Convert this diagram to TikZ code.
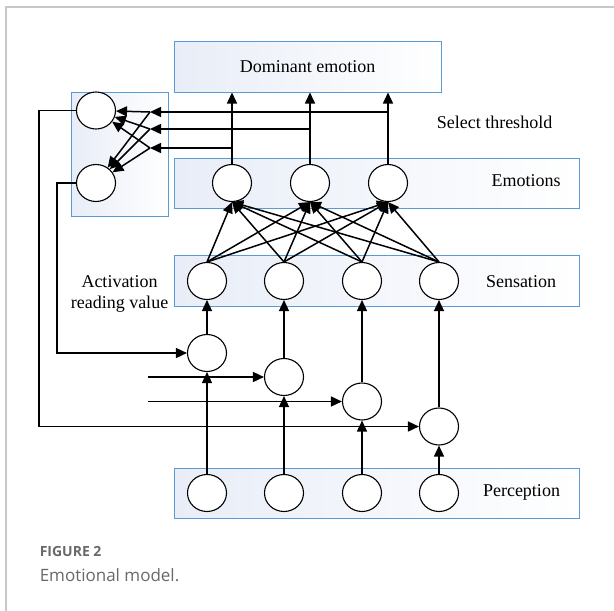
\documentclass[tikz,border=0pt]{standalone}
\usepackage{fontspec}
\setmainfont{Liberation Serif}
\newfontfamily\capfont{Open Sans}
\usetikzlibrary{arrows.meta}
\usetikzlibrary{positioning}
\usetikzlibrary{calc, shapes.geometric}
\definecolor{boxblue}{RGB}{91,155,213}
\definecolor{boxfill}{RGB}{232,237,247}
\definecolor{framegray}{RGB}{200,200,200}
\definecolor{capgray}{RGB}{105,105,105}

\begin{document}
\begin{tikzpicture}[x=1pt,y=-1pt,>={Triangle[length=11pt,width=10pt]},line width=1.5pt,font=\fontsize{18}{21}\selectfont]
 \tikzstyle{layer node}=[rectangle,draw=boxblue,line width=1pt,left color=boxfill,right color=white,inner sep=0]
 \tikzstyle{unit node}=[ellipse,draw,fill=white,line width=1.1pt,minimum width=39pt,minimum height=37pt,inner sep=0]
 \tikzstyle{text node}=[inner sep=0]
 \tikzset{
 	caption head/.style={inner sep=0,anchor=west,text=capgray,font=\capfont\bfseries\fontsize{14}{16}\selectfont},
 	caption body/.style={inner sep=0,anchor=west,text=capgray,font=\capfont\fontsize{17}{20}\selectfont}
 }
 \useasboundingbox (0,0) rectangle (614,611);
 \draw[framegray,line width=1.5pt] (6,611) -- (6,7) -- (614,7);

       % layers
       \node[layer node,minimum width=267pt,minimum height=51pt] (dom) at (307.5,66.5) {Dominant emotion};
       \node[layer node,minimum width=97pt,minimum height=124pt] (sel) at (119.5,154) {};
       \node[layer node,minimum width=405pt,minimum height=50pt] (emo) at (376.5,183) {};
       \node[layer node,minimum width=405pt,minimum height=51pt] (sen) at (376.5,280.5) {};
       \node[layer node,minimum width=405pt,minimum height=50pt] (per) at (376.5,493) {};

       \node[text node] (selt) at (494.5,122) {Select threshold};
       \node[text node] (emot) at (526,181) {Emotions};
       \node[text node] (sent) at (521,282) {Sensation};
       \node[text node] (pert) at (521.5,492) {Perception};
       \node[text node,align=center] (actt) at (119.5,293.5) {Activation\\reading value};

       % units
       \node[unit node] (lb1) at (96,110.5) {};
       \node[unit node] (lb2) at (96,183) {};

       \node[unit node] (e1) at (232,183) {};
       \node[unit node] (e2) at (310,183) {};
       \node[unit node] (e3) at (388,183) {};

       \node[unit node] (s1) at (207,281) {};
       \node[unit node] (s2) at (284,281) {};
       \node[unit node] (s3) at (362,281) {};
       \node[unit node] (s4) at (439,281) {};

       \node[unit node] (m1) at (207,353) {};
       \node[unit node] (m2) at (284,377) {};
       \node[unit node] (m3) at (362,401.5) {};
       \node[unit node] (m4) at (439,426.5) {};

       \node[unit node] (p1) at (207,493) {};
       \node[unit node] (p2) at (284,493) {};
       \node[unit node] (p3) at (362,493) {};
       \node[unit node] (p4) at (439,493) {};

       \coordinate (t1) at (150,112);
       \coordinate (t2) at (150,129);
       \coordinate (t3) at (150,148);
       \coordinate (bendA) at (39,426.5);
       \coordinate (bendB) at (57,353);
       \coordinate (in2) at (148,377);
       \coordinate (in3) at (148,401.5);

     % perception -> sensation
     \path[->]  (p1) edge (m1);
     \path[->]  (p2) edge (m2);
     \path[->]  (p3) edge (m3);
     \path[->]  (p4) edge (m4);
     \path[->]  (m1) edge (s1);
     \path[->]  (m2) edge (s2);
     \path[->]  (m3) edge (s3);
     \path[->]  (m4) edge (s4);

     % activation reading value
     \draw[->] (lb1.west) -| (bendA) -- (m4.west);
     \draw[->] (lb2.west) -| (bendB) -- (m1.west);
     \draw[->] (in2) -- (m2.west);
     \draw[->] (in3) -- (m3.west);

     % sensation -> emotions
     \path[->]  (s1.north) edge (e1.south) edge (e2.south) edge (e3.south);
     \path[->]  (s2.north) edge (e1.south) edge (e2.south) edge (e3.south);
     \path[->]  (s3.north) edge (e1.south) edge (e2.south) edge (e3.south);
     \path[->]  (s4.north) edge (e1.south) edge (e2.south) edge (e3.south);

     % emotions -> dominant emotion
     \draw[->] (e1.north) -- (e1.north |- dom.south);
     \draw[->] (e2.north) -- (e2.north |- dom.south);
     \draw[->] (e3.north) -- (e3.north |- dom.south);

     % select threshold
     \draw[->] (e3.north |- t1) -- (t1);
     \draw[->] (e2.north |- t2) -- (t2);
     \draw[->] (e1.north |- t3) -- (t3);
     \path[->]  (t1) edge (lb1) edge (lb2);
     \path[->]  (t2) edge (lb1) edge (lb2);
     \path[->]  (t3) edge (lb1) edge (lb2);

 \node[caption head] (fig) at (39,551) {FIGURE 2};
 \node[caption body] (cap) at (39,575) {Emotional model.};
 \end{tikzpicture}
\end{document}
